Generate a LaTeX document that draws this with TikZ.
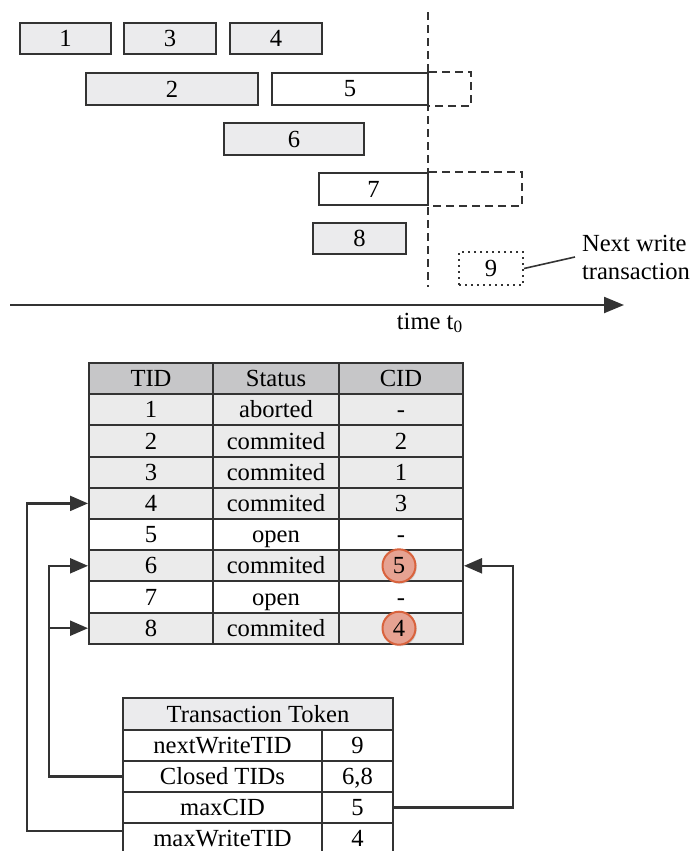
\documentclass[tikz,border=0pt]{standalone}
\usepackage{fontspec}
\setmainfont{Liberation Serif}
\usetikzlibrary{arrows.meta, shadows}

\definecolor{boxgray}{HTML}{EBEBED}
\definecolor{headgray}{HTML}{C6C6C8}
\definecolor{rowgray}{HTML}{EBEBEB}
\definecolor{linegray}{HTML}{333333}
\definecolor{markfill}{HTML}{E6A292}
\definecolor{markedge}{HTML}{D9633D}

\tikzset{
  bar/.style={draw=linegray, line width=1pt, inner sep=0pt, minimum height=15.5pt,
    drop shadow={shadow xshift=0.5pt, shadow yshift=-0.5pt, opacity=0.2}},
  cell/.style={draw=linegray, line width=1pt, inner sep=0pt, minimum height=15.6pt,
    text height=8pt, text depth=0pt},
  link/.style={draw=linegray, line width=1.1pt, -{Triangle[length=9pt,width=7.5pt]}},
  later/.style={draw=linegray, line width=1pt, dash pattern=on 4pt off 2.5pt},
  hilite/.style={circle, draw=markedge, fill=markfill, line width=1pt, minimum size=16.5pt, inner sep=0pt,
    drop shadow={shadow xshift=0.6pt, shadow yshift=-0.8pt, opacity=0.25}},
}

\begin{document}
\begin{tikzpicture}[x=0.5pt, y=-0.5pt, every node/.style={font=\fontsize{12.3}{14}\selectfont}]
\useasboundingbox (0,0) rectangle (694,851);

% transactions on the time line
\node[bar, fill=boxgray, minimum width=45.5pt] (b1) at (65.5,38.5) {1};
\node[bar, fill=boxgray, minimum width=46pt] (b3) at (170,38.5) {3};
\node[bar, fill=boxgray, minimum width=46pt] (b4) at (276,38.5) {4};
\node[bar, fill=boxgray, minimum width=86pt, minimum height=16pt] (b2) at (172,89) {2};
\node[bar, fill=white, minimum width=78pt, minimum height=16pt] (b5) at (350,89) {5};
\node[bar, fill=boxgray, minimum width=70pt, minimum height=16pt] (b6) at (294,139) {6};
\node[bar, fill=white, minimum width=54.5pt, minimum height=16pt] (b7) at (373.5,189) {7};
\node[bar, fill=boxgray, minimum width=46.5pt] (b8) at (359.5,238.5) {8};
\node[draw=linegray, line width=1pt, dash pattern=on 1pt off 2pt, inner sep=0pt,
  minimum width=32pt, minimum height=16.5pt] (b9) at (491,268.5) {9};

\draw[later] (b5.north east) -- ++(42,0) |- (b5.south east);
\draw[later] (b7.north east) -- ++(93,0) |- (b7.south east);

\coordinate (t0a) at (428,12);
\coordinate (t0b) at (428,287);
\draw[later] (t0a) -- (t0b);

\node[align=left] (nxt) at (636,257) {Next write\\transaction};
\draw[draw=linegray, line width=0.8pt] (b9.east) -- (nxt.west);

\coordinate (axs) at (10,305);
\coordinate (axe) at (624,305);
\draw[draw=linegray, line width=1.1pt, -{Triangle[length=10pt,width=8pt]}] (axs) -- (axe);
\node (tl) at (430,323) {time t\textsubscript{0}};

% transaction table
\node[cell, fill=headgray, minimum width=62pt] (tidh) at (151,378.6) {TID};
\node[cell, fill=headgray, minimum width=63pt] (sth) at (276,378.6) {Status};
\node[cell, fill=headgray, minimum width=62pt] (cidh) at (401,378.6) {CID};
\foreach \t/\s/\c/\f [count=\r] in {1/aborted/-/rowgray, 2/commited/2/rowgray, 3/commited/1/rowgray,
    4/commited/3/rowgray, 5/open/-/white, 6/commited//rowgray, 7/open/-/white, 8/commited//rowgray}{
  \node[cell, fill=\f, minimum width=62pt] (tid\r) at (151,378.6+31.2*\r) {\t};
  \node[cell, fill=\f, minimum width=63pt] (st\r) at (276,378.6+31.2*\r) {\s};
  \node[cell, fill=\f, minimum width=62pt] (cid\r) at (401,378.6+31.2*\r) {\c};
}
\node[hilite] (m6) at ([xshift=-1pt]cid6) {5};
\node[hilite] (m8) at ([xshift=-1pt]cid8) {4};

% transaction token
\node[cell, fill=boxgray, minimum width=135pt, minimum height=16pt] (tok) at (258,714) {Transaction Token};
\node[cell, fill=white, minimum width=99.5pt, minimum height=15.5pt] (tk1) at (222.5,745.5) {nextWriteTID};
\node[cell, fill=white, minimum width=35.5pt, minimum height=15.5pt] (tv1) at (357.5,745.5) {9};
\node[cell, fill=white, minimum width=99.5pt, minimum height=15.5pt] (tk2) at (222.5,776.5) {Closed TIDs};
\node[cell, fill=white, minimum width=35.5pt, minimum height=15.5pt] (tv2) at (357.5,776.5) {6,8};
\node[cell, fill=white, minimum width=99.5pt, minimum height=15.5pt] (tk3) at (222.5,807.5) {maxCID};
\node[cell, fill=white, minimum width=35.5pt, minimum height=15.5pt] (tv3) at (357.5,807.5) {5};
\node[cell, fill=white, minimum width=99.5pt, minimum height=15.5pt] (tk4) at (222.5,838.5) {maxWriteTID};
\node[cell, fill=white, minimum width=35.5pt, minimum height=15.5pt] (tv4) at (357.5,838.5) {4};

% token fields pointing into the table
\draw[link] ([yshift=3.75pt]tk4.west) -- ++(-95,0) |- (tid4.west);
\draw[link] (tk2.west) -- ++(-73,0) coordinate (cbend) |- (tid6.west);
\draw[link] (cbend |- tid8.west) -- (tid8.west);
\draw[link] (tv3.east) -- ++(119,0) |- (cid6.east);

\end{tikzpicture}
\end{document}
